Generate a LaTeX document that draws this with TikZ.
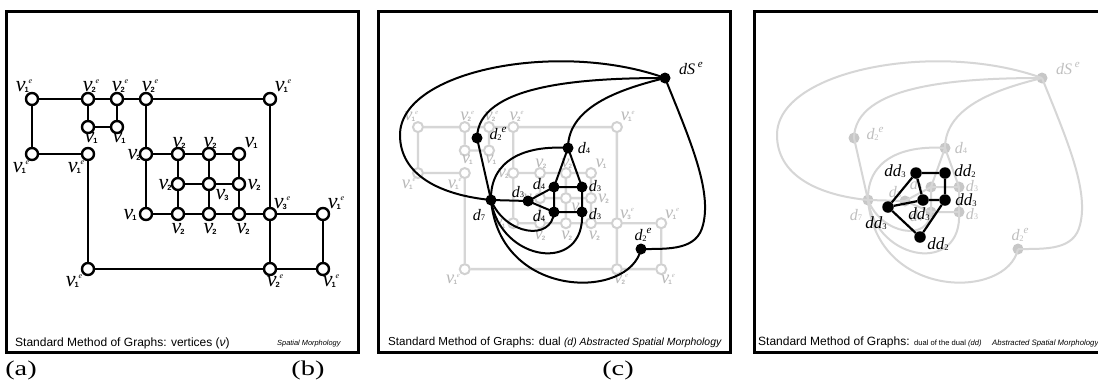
\documentclass[tikz,border=0pt]{standalone}
\usepackage{fontspec}
\setmainfont{Liberation Serif}
\setsansfont{Liberation Sans}
\newcommand{\vsub}[1]{{\fontsize{22}{22}\selectfont\itshape ν}\kern-1pt\raisebox{-1pt}{\fontsize{7.5}{7.5}\selectfont\sffamily\bfseries #1}}
\newcommand{\vext}[1]{\vsub{#1}\raisebox{8pt}{\fontsize{8}{8}\selectfont\itshape e}}
\newcommand{\dsub}[1]{\textit{d}\kern-0.2pt\raisebox{-0.5pt}{\fontsize{8.5}{8.5}\selectfont #1}}
\newcommand{\dext}[1]{\dsub{#1}\raisebox{7pt}{\fontsize{11}{11}\selectfont\itshape e}}
\newcommand{\ddsub}[1]{\textit{dd}\kern-0.2pt\raisebox{-0.5pt}{\fontsize{8.5}{8.5}\selectfont #1}}
\newcommand{\vgraph}{%
  \foreach \n/\x/\y in {t1/32/99,t2/88/99,t3/117/99,t4/146/99,t5/270/99,
     s1/88/127,s2/117/127,l1/32/154,l2/88/154,
     a1/146/154,a2/178/154,a3/209/154,a4/239/154,
     b2/178/184,b3/209/184,b4/239/184,
     c1/146/214,c2/178/214,c3/209/214,c4/239/214,c5/270/214,c6/323/214,
     e2/88/269,e5/270/269,e6/323/269}
     {\node[vnode] (\n) at (\x,\y) {};}
  \draw[vedge] (t1)--(t2) (t2)--(t3) (t3)--(t4) (t4)--(t5)
     (t1)--(l1) (l1)--(l2) (l2)--(e2)
     (t2)--(s1) (s1)--(s2) (s2)--(t3)
     (t4)--(a1) (a1)--(c1) (t5)--(c5) (c5)--(e5)
     (e2)--(e5) (e5)--(e6) (e6)--(c6) (c5)--(c6)
     (a1)--(a2) (a2)--(a3) (a3)--(a4) (b2)--(b3) (b3)--(b4)
     (c1)--(c2) (c2)--(c3) (c3)--(c4) (c4)--(c5)
     (a2)--(b2) (b2)--(c2) (a3)--(b3) (b3)--(c3) (a4)--(b4) (b4)--(c4);
  \node[vlab] at (24,86) {\vext{1}};
  \node[vlab] at (91,86) {\vext{2}};
  \node[vlab] at (120,86) {\vext{2}};
  \node[vlab] at (150,86) {\vext{2}};
  \node[vlab] at (283,86) {\vext{1}};
  \node[vlab] at (91,138) {\vsub{1}};
  \node[vlab] at (119,138) {\vsub{1}};
  \node[vlab] at (21,167) {\vext{1}};
  \node[vlab] at (76,167) {\vext{1}};
  \node[vlab] at (134,155) {\vsub{2}};
  \node[vlab] at (179,143) {\vsub{2}};
  \node[vlab] at (210,143) {\vsub{2}};
  \node[vlab] at (251,143) {\vsub{1}};
  \node[vlab] at (165,185) {\vsub{2}};
  \node[vlab] at (222,195) {\vsub{3}};
  \node[vlab] at (254,185) {\vsub{2}};
  \node[vlab] at (130,215) {\vsub{1}};
  \node[vlab] at (178,229) {\vsub{2}};
  \node[vlab] at (210,229) {\vsub{2}};
  \node[vlab] at (243,229) {\vsub{2}};
  \node[vlab] at (282,203) {\vext{3}};
  \node[vlab] at (336,203) {\vext{1}};
  \node[vlab] at (74,281) {\vext{1}};
  \node[vlab] at (275,281) {\vext{2}};
  \node[vlab] at (331,281) {\vext{1}};
}
\newcommand{\dgraph}{%
  \node[dnode] (dS) at (665,78) {};
  \node[dnode] (dA) at (477,138) {};
  \node[dnode] (dB) at (568,148) {};
  \node[dnode] (dC) at (554,187) {};
  \node[dnode] (dD) at (582,187) {};
  \node[dnode] (dE) at (528,201) {};
  \node[dnode] (dF) at (491,200) {};
  \node[dnode] (dG) at (554,212) {};
  \node[dnode] (dH) at (582,212) {};
  \node[dnode] (dI) at (641,249) {};
  \coordinate (dL) at (400,135);
  \coordinate (dR) at (703,225);
  \draw[dedge] (dS.center) .. controls (580,78) and (478,85) .. (dA.center);
  \draw[dedge] (dS.center) .. controls (625,88) and (568,105) .. (dB.center);
  \draw[dedge] (dS.center) .. controls (560,40) and (400,70) .. (dL)
               .. controls (400,175) and (440,195) .. (dF.center);
  \draw[dedge] (dS.center) .. controls (690,140) and (712,190) .. (dR)
               .. controls (697,250) and (670,249) .. (dI.center);
  \draw[dedge] (dA.center) -- (dF.center);
  \draw[dedge] (dB.center) .. controls (525,145) and (490,160) .. (dF.center);
  \draw[dedge] (dB.center) -- (dC.center) (dB.center) -- (dD.center)
               (dC.center) -- (dD.center) (dC.center) -- (dG.center)
               (dD.center) -- (dH.center) (dG.center) -- (dH.center)
               (dE.center) -- (dC.center) (dE.center) -- (dG.center)
               (dF.center) -- (dE.center);
  \draw[dedge] (dF.center) .. controls (505,235) and (552,242) .. (dG.center);
  \draw[dedge] (dF.center) .. controls (500,262) and (586,275) .. (dH.center);
  \draw[dedge] (dF.center) .. controls (500,300) and (630,300) .. (dI.center);
  \node[dlab] at (691,68) {\textit{dS}\,\raisebox{7pt}{\fontsize{11}{11}\selectfont\itshape e}};
  \node[dlab] at (498,134) {\dext{2}};
  \node[dlab] at (584,148) {\dsub{4}};
  \node[dlab] at (539,184) {\dsub{4}};
  \node[dlab] at (595,186) {\dsub{3}};
  \node[dlab] at (518,192) {\dsub{3}};
  \node[dlab] at (479,215) {\dsub{7}};
  \node[dlab] at (539,216) {\dsub{4}};
  \node[dlab] at (595,214) {\dsub{3}};
  \node[dlab] at (643,235) {\dext{2}};
}
\begin{document}
\begin{tikzpicture}[x=1pt,y=-1pt,
  panelframe/.style={line width=3pt,draw=black},
  vnode/.style={circle,draw=black,fill=white,line width=2.4pt,minimum size=12pt,inner sep=0pt},
  vedge/.style={line width=2.7pt,black},
  vlab/.style={inner sep=0pt,text=black},
  dnode/.style={circle,fill=black,minimum size=11pt,inner sep=0pt},
  dedge/.style={line width=2pt,black},
  dlab/.style={inner sep=0pt,text=black,font=\fontsize{16}{16}\selectfont},
  ddnode/.style={circle,fill=black,minimum size=11.5pt,inner sep=0pt},
  ddedge/.style={line width=2.2pt,black},
  ddlab/.style={inner sep=0pt,text=black,font=\fontsize{17}{17}\selectfont},
  captxt/.style={inner sep=0pt,anchor=base west,font=\sffamily},
  plab/.style={inner sep=0pt,font=\fontsize{21}{21}\selectfont}]
\clip (0,0) rectangle (1098,381);
\fill[white] (0,0) rectangle (1098,381);
% ---------- panel (a) ----------
\draw[panelframe] (6.3,11.3) rectangle (358.7,352);
\vgraph
\node[captxt] (capA) at (15,346.5) {\fontsize{12}{12}\selectfont Standard Method of Graphs: vertices (\textit{ν})};
\node[captxt] (capA2) at (277,345) {\fontsize{7.4}{7.4}\selectfont\itshape Spatial Morphology};
% ---------- panel (c) ----------
\draw[panelframe] (378.7,11.3) rectangle (730.7,352);
\begin{scope}[shift={(391.2,44.3)},scale=0.836,transform shape,name prefix=g-,
  vnode/.style={circle,draw=black!18,fill=white,line width=2pt,minimum size=12pt,inner sep=0pt},
  vedge/.style={line width=2.4pt,black!16},
  vlab/.style={inner sep=0pt,text=black!28}]
\vgraph
\end{scope}
\dgraph
\node[captxt] (capB) at (388,345) {\fontsize{11.6}{12}\selectfont Standard Method of Graphs: dual \fontsize{10.4}{11}\selectfont\itshape (d) Abstracted Spatial Morphology};
% ---------- panel right ----------
\draw[panelframe] (754.7,11.3) rectangle (1110,352);
\begin{scope}[xshift=377pt,name prefix=h-,
  dnode/.style={circle,fill=black!22,minimum size=11pt,inner sep=0pt},
  dedge/.style={line width=2pt,black!16},
  dlab/.style={inner sep=0pt,text=black!25,font=\fontsize{16}{16}\selectfont}]
\dgraph
\end{scope}
\node[ddnode] (p1) at (916,173) {};
\node[ddnode] (p2) at (945,173) {};
\node[ddnode] (p3) at (923,200) {};
\node[ddnode] (p4) at (945,200) {};
\node[ddnode] (p5) at (888,207) {};
\node[ddnode] (p6) at (920,237) {};
\draw[ddedge] (p1)--(p2) (p2)--(p4) (p1)--(p3) (p1)--(p5) (p5)--(p3) (p3)--(p4) (p5)--(p6) (p6)--(p4);
\node[ddlab] at (895,171) {\ddsub{3}};
\node[ddlab] at (965,171) {\ddsub{2}};
\node[ddlab] at (919,214) {\ddsub{3}};
\node[ddlab] at (966,200) {\ddsub{3}};
\node[ddlab] at (876,223) {\ddsub{3}};
\node[ddlab] at (938,244) {\ddsub{2}};
\node[captxt] (capC) at (758,345) {\fontsize{12}{12}\selectfont Standard Method of Graphs: \fontsize{7.6}{8}\selectfont dual of the dual \itshape (dd)};
\node[captxt] (capC2) at (992,345) {\fontsize{7.8}{8}\selectfont\itshape Abstracted Spatial Morphology};
% ---------- sub-figure letters ----------
\node[plab] (la) at (21,370) {\scalebox{1.35}[1]{(a)}};
\node[plab] (lb) at (308,370) {\scalebox{1.35}[1]{(b)}};
\node[plab] (lc) at (618,370) {\scalebox{1.35}[1]{(c)}};
\end{tikzpicture}
\end{document}
